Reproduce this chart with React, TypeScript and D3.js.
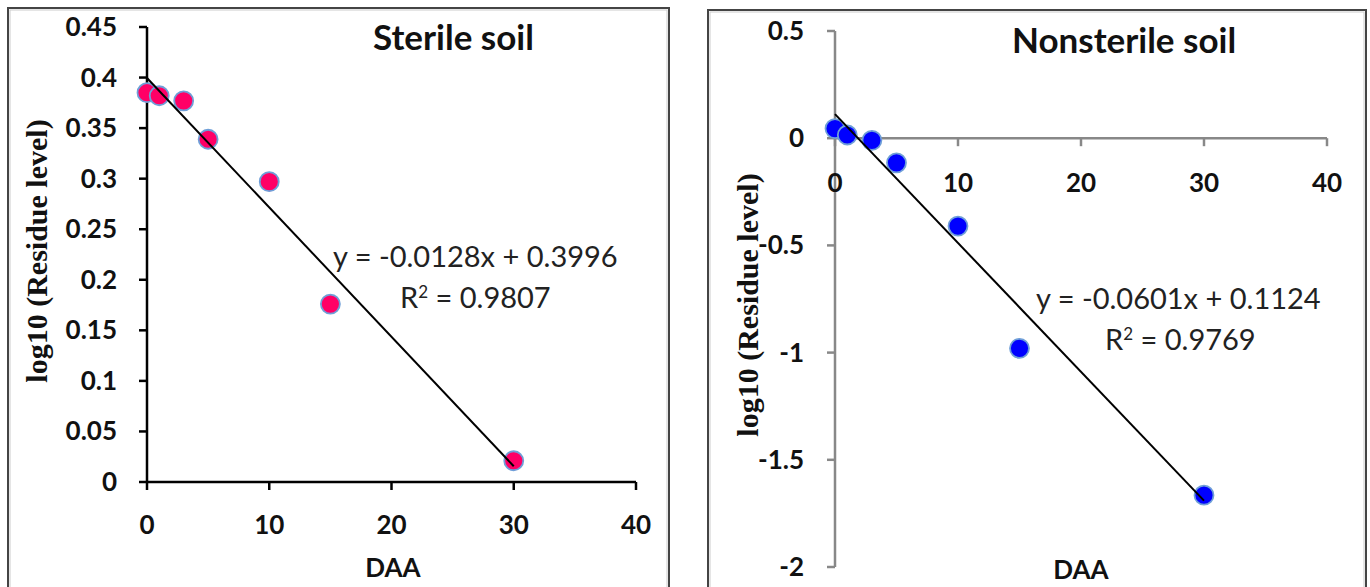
import React from "react";
import * as d3 from "d3";

// days after application
const daa = [0, 1, 3, 5, 10, 15, 30];
const sterile = [0.385, 0.382, 0.377, 0.339, 0.297, 0.176, 0.021];
const nonsterile = [0.045, 0.015, -0.01, -0.115, -0.41, -0.98, -1.665];

const sterileFit = { slope: -0.0128, intercept: 0.3996, r2: "0.9807" };
const nonsterileFit = { slope: -0.0601, intercept: 0.1124, r2: "0.9769" };

const xTicks = [0, 10, 20, 30, 40];
const sterileTicks = [0, 0.05, 0.1, 0.15, 0.2, 0.25, 0.3, 0.35, 0.4, 0.45];
const nonsterileTicks = [0.5, 0, -0.5, -1, -1.5, -2];

const sans = "Lato, 'Open Sans', sans-serif";
const serif = "'Liberation Serif', 'DejaVu Serif', serif";

function Panel(props: any) {
  const p = props;
  const x = d3.scaleLinear().domain([0, 40]).range(p.xRange);
  const y = d3.scaleLinear().domain(p.yDomain).range(p.yRange);
  const x0 = x(0);
  const yAxisAt = y(0);
  const line = d3.line<number>().x((d) => x(d)).y((d) => y(p.fit.slope * d + p.fit.intercept));
  const fmt = (v: number) => String(v);
  return (
    <g>
      <rect x={p.box[0]} y={p.box[1]} width={p.box[2]} height={p.box[3]} fill="white" stroke="#444" strokeWidth={2} />
      <rect x={p.box[0] + 2} y={p.box[1] + 2} width={p.box[2] - 4} height={p.box[3] - 4} fill="none" stroke="#ccc" strokeWidth={1} />
      {/* y axis */}
      <line x1={x0} x2={x0} y1={y(p.yDomain[0])} y2={y(p.yDomain[1])} stroke={p.axisColor} strokeWidth={2.5} />
      {p.yTicks.map((t: number) => (
        <g key={"y" + t}>
          <line x1={x0 - 8} x2={x0} y1={y(t)} y2={y(t)} stroke={p.axisColor} strokeWidth={2.5} />
          <text x={x0 - p.yLabelOffset} y={y(t) + 9} textAnchor="end" fontFamily={sans} fontWeight="bold" fontSize={26} fill="#111">
            {fmt(t)}
          </text>
        </g>
      ))}
      {/* x axis */}
      <line x1={x0} x2={x(40)} y1={yAxisAt} y2={yAxisAt} stroke={p.axisColor} strokeWidth={2.5} />
      {xTicks.map((t) => (
        <g key={"x" + t}>
          <line x1={x(t)} x2={x(t)} y1={yAxisAt} y2={yAxisAt + 8} stroke={p.axisColor} strokeWidth={2.5} />
          <text x={x(t)} y={yAxisAt + p.xLabelOffset} textAnchor="middle" fontFamily={sans} fontWeight="bold" fontSize={26} fill="#111">
            {t}
          </text>
        </g>
      ))}
      {/* points */}
      {daa.map((d, i) => (
        <circle key={"p" + i} cx={x(d)} cy={y(p.values[i])} r={9.5} fill={p.color} stroke="#6f9fd8" strokeWidth={1.8} />
      ))}
      {/* trend line */}
      <path d={line([0, 30]) || ""} stroke="#000" strokeWidth={2} fill="none" />
      <text x={p.title[0]} y={p.title[1]} fontFamily={sans} fontWeight="bold" fontSize={35} fill="#111">
        {p.titleText}
      </text>
      <text x={p.eq[0]} y={p.eq[1]} fontFamily={sans} fontSize={29} fill="#222">
        {"y = " + p.fit.slope + "x + " + p.fit.intercept}
      </text>
      <text x={p.eq[0] + p.r2dx} y={p.eq[1] + 41} fontFamily={sans} fontSize={29} fill="#222">
        R<tspan baselineShift="super" fontSize={17}>2</tspan>
        {" = " + p.fit.r2}
      </text>
      <text
        transform={`translate(${p.yLabel[0]},${p.yLabel[1]}) rotate(-90)`}
        textAnchor="middle"
        fontFamily={serif}
        fontWeight="bold"
        fontSize={30}
        fill="#111"
      >
        log10 (Residue level)
      </text>
      <text x={p.xLabel[0]} y={p.xLabel[1]} textAnchor="middle" fontFamily={sans} fontWeight="bold" fontSize={26} fill="#111">
        DAA
      </text>
    </g>
  );
}

export default function App() {
  return (
    <svg width={1370} height={587} style={{ position: "absolute", left: 0, top: 0, background: "white" }}>
      <Panel
        box={[8, 8, 661, 590]}
        xRange={[147, 636]}
        yDomain={[0, 0.45]}
        yRange={[482, 27]}
        yTicks={sterileTicks}
        values={sterile}
        color="#ff0066"
        axisColor="#000"
        fit={sterileFit}
        yLabelOffset={30}
        xLabelOffset={52}
        title={[373, 50]}
        titleText="Sterile soil"
        eq={[333, 267]}
        r2dx={67}
        yLabel={[47, 251]}
        xLabel={[393, 577]}
      />
      <Panel
        box={[708, 10, 658, 590]}
        xRange={[835, 1327]}
        yDomain={[-2, 0.5]}
        yRange={[567, 31]}
        yTicks={nonsterileTicks}
        values={nonsterile}
        color="#0000ff"
        axisColor="#888"
        fit={nonsterileFit}
        yLabelOffset={31}
        xLabelOffset={54}
        title={[1012, 53]}
        titleText="Nonsterile soil"
        eq={[1036, 309]}
        r2dx={69}
        yLabel={[758, 305]}
        xLabel={[1081, 579]}
      />
    </svg>
  );
}
